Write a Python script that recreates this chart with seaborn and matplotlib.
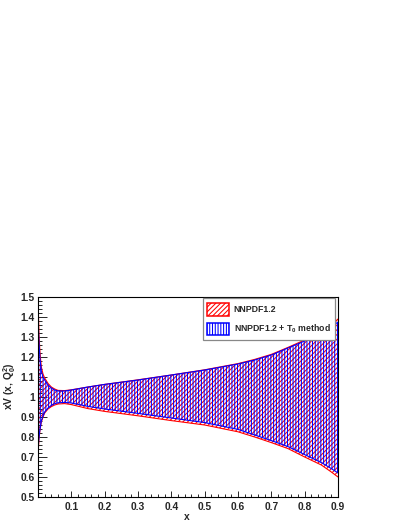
import matplotlib
matplotlib.use("Agg")
import matplotlib.pyplot as plt
import seaborn as sns
import numpy as np
from matplotlib.patches import Patch
from matplotlib.ticker import MultipleLocator

# x grid and band edges
x = [0.001, 0.003, 0.006, 0.01, 0.015, 0.02, 0.03, 0.04, 0.05, 0.06, 0.08, 0.1,
     0.15, 0.2, 0.3, 0.4, 0.5, 0.6, 0.65, 0.7, 0.75, 0.8, 0.85, 0.88, 0.9]

# NNPDF1.2
red_up = [1.43, 1.31, 1.22, 1.15, 1.115, 1.095, 1.068, 1.05, 1.04, 1.033, 1.032, 1.036,
          1.05, 1.063, 1.086, 1.11, 1.136, 1.167, 1.188, 1.213, 1.248, 1.285, 1.327, 1.36, 1.39]
red_lo = [0.74, 0.79, 0.835, 0.875, 0.90, 0.92, 0.94, 0.952, 0.96, 0.965, 0.967, 0.962,
          0.942, 0.928, 0.906, 0.882, 0.86, 0.826, 0.80, 0.772, 0.742, 0.70, 0.66, 0.625, 0.60]

# NNPDF1.2 + T0 method
blue_up = [1.36, 1.27, 1.19, 1.13, 1.10, 1.085, 1.06, 1.045, 1.035, 1.03, 1.03, 1.035,
           1.05, 1.063, 1.085, 1.11, 1.135, 1.165, 1.185, 1.21, 1.245, 1.28, 1.32, 1.35, 1.375]
blue_lo = [0.76, 0.80, 0.84, 0.88, 0.905, 0.925, 0.945, 0.958, 0.966, 0.971, 0.973, 0.97,
           0.953, 0.94, 0.918, 0.895, 0.872, 0.838, 0.81, 0.782, 0.752, 0.712, 0.672, 0.642, 0.62]

labels = ["NNPDF1.2", "NNPDF1.2 + T$_0$ method"]

sns.set_style("ticks")
plt.rcParams['font.family'] = ['Liberation Sans', 'DejaVu Sans']
plt.rcParams['font.weight'] = 'bold'
plt.rcParams['mathtext.fontset'] = 'custom'
plt.rcParams['mathtext.rm'] = 'Liberation Sans:bold'
plt.rcParams['mathtext.default'] = 'rm'
plt.rcParams['hatch.linewidth'] = 0.75

fig = plt.figure(figsize=(4.06, 5.25), dpi=100)
ax = fig.add_axes([38 / 406, 28 / 525, 300 / 406, 200 / 525])

ax.fill_between(x, red_lo, red_up, facecolor='none', edgecolor='red',
                hatch='///////', linewidth=0)
ax.fill_between(x, blue_lo, blue_up, facecolor='none', edgecolor='blue',
                hatch='||||||', linewidth=0)

for ys, c in [(red_up, 'red'), (red_lo, 'red'), (blue_up, 'blue'), (blue_lo, 'blue')]:
    sns.lineplot(x=x, y=ys, color=c, linewidth=0.8, ax=ax)

ax.set_xlim(0.0, 0.9)
ax.set_ylim(0.5, 1.5)
ax.xaxis.set_minor_locator(MultipleLocator(0.02))
ax.yaxis.set_minor_locator(MultipleLocator(0.02))
ax.set_xticks(np.arange(0.1, 0.91, 0.1))
ax.set_xticklabels([f"{v:.1f}" for v in np.arange(0.1, 0.91, 0.1)])
ax.set_yticks(np.arange(0.5, 1.51, 0.1))
ax.set_yticklabels([f"{v:g}" for v in np.round(np.arange(0.5, 1.51, 0.1), 1)])

ax.tick_params(axis='x', which='major', direction='in', length=4.3, width=0.7,
               labelsize=7.4, pad=3.5)
ax.tick_params(axis='x', which='minor', direction='in', length=2.2, width=0.7)
ax.tick_params(axis='y', which='major', direction='in', length=6.5, width=0.7,
               labelsize=7.4, pad=2.5)
ax.tick_params(axis='y', which='minor', direction='in', length=3.2, width=0.7)
for s in ax.spines.values():
    s.set_linewidth(0.8)
    s.set_color('black')

ax.set_xlabel("x", fontsize=7.4, fontweight='bold')
ax.xaxis.set_label_coords(0.497, -0.075)
ax.set_ylabel("xV (x, Q$_0^2$)", fontsize=7.4, fontweight='bold')
ax.yaxis.set_label_coords(-0.066, 0.555)

handles = [Patch(facecolor='white', edgecolor='red', hatch='///////', linewidth=1.1),
           Patch(facecolor='white', edgecolor='blue', hatch='||||||', linewidth=1.1)]
leg = ax.legend(handles, labels, loc='upper right', bbox_to_anchor=(0.99, 0.994),
                fontsize=6.3, handlelength=2.5, handleheight=1.9, handletextpad=0.55,
                labelspacing=0.8, borderpad=0.5, borderaxespad=0, fancybox=False,
                frameon=True, edgecolor='#888888', framealpha=1)
leg.get_frame().set_linewidth(0.9)
for t in leg.get_texts():
    t.set_fontweight('bold')

fig.savefig("out.png", dpi=100, facecolor='white')
